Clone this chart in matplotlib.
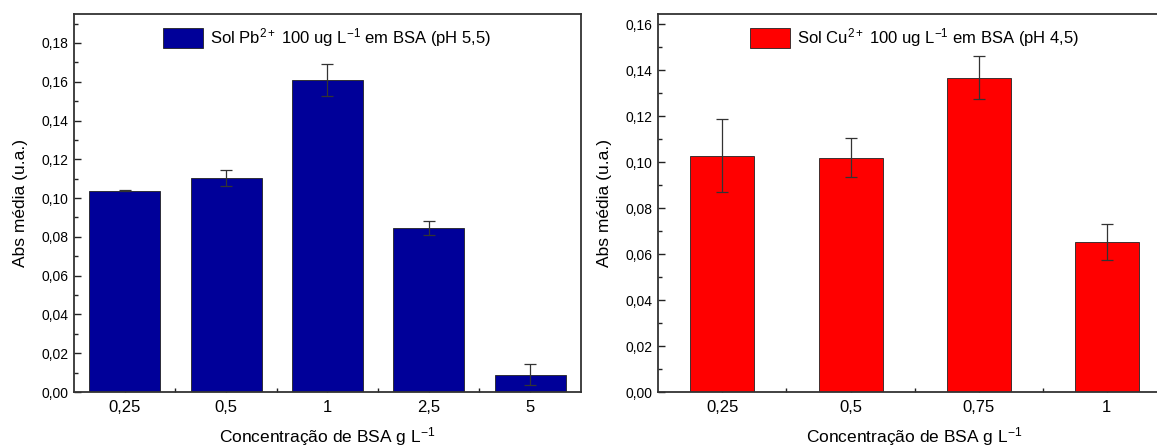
import matplotlib
matplotlib.use("Agg")
import matplotlib.pyplot as plt
from matplotlib.ticker import FuncFormatter, MultipleLocator, FixedLocator

plt.rcParams['font.family'] = ['Liberation Sans', 'DejaVu Sans']
plt.rcParams['mathtext.fontset'] = 'custom'
plt.rcParams['mathtext.rm'] = 'Liberation Sans'
plt.rcParams['mathtext.it'] = 'Liberation Sans'
plt.rcParams['mathtext.default'] = 'rm'

# Pb2+ panel
pb_labels = ['0,25', '0,5', '1', '2,5', '5']
pb_values = [0.1039, 0.1104, 0.1607, 0.0848, 0.0088]
pb_errors = [0.0005, 0.0040, 0.0083, 0.0036, 0.0054]

# Cu2+ panel
cu_labels = ['0,25', '0,5', '0,75', '1']
cu_values = [0.1028, 0.1020, 0.1368, 0.0651]
cu_errors = [0.0160, 0.0085, 0.0095, 0.0078]

comma = FuncFormatter(lambda v, p: f"{v:.2f}".replace('.', ','))

fig = plt.figure(figsize=(11.57, 4.47), dpi=100)
ax1 = fig.add_axes([0.064, 0.123, 0.438, 0.846])
ax2 = fig.add_axes([0.569, 0.123, 0.443, 0.846])


def draw(ax, labels, values, errors, color, width, ymax, legend_text):
    x = list(range(1, len(labels) + 1))
    ax.bar(x, values, width=width, color=color, edgecolor='#222222',
           linewidth=0.6, label=legend_text, zorder=2)
    ax.errorbar(x, values, yerr=errors, fmt='none', ecolor='#333333',
                elinewidth=0.9, capsize=4, capthick=0.9, zorder=3)
    ax.set_xlim(0.5, len(labels) + 0.5)
    ax.set_ylim(0, ymax)
    ax.xaxis.set_major_locator(FixedLocator(x))
    ax.set_xticklabels(labels, fontsize=12)
    ax.xaxis.set_minor_locator(FixedLocator([i + 0.5 for i in x[:-1]]))
    ax.yaxis.set_major_locator(MultipleLocator(0.02))
    ax.yaxis.set_minor_locator(MultipleLocator(0.01))
    ax.yaxis.set_major_formatter(comma)
    ax.tick_params(axis='both', which='both', direction='in', top=False, right=False)
    ax.tick_params(axis='both', which='major', length=5, width=1, color='#222222')
    ax.tick_params(axis='both', which='minor', length=3, width=1, color='#222222')
    ax.tick_params(axis='y', labelsize=10, pad=4)
    ax.tick_params(axis='x', pad=6)
    for s in ax.spines.values():
        s.set_linewidth(1.3)
        s.set_color('#333333')
    ax.set_ylabel('Abs média (u.a.)', fontsize=12.5)
    ax.set_xlabel('Concentração de BSA g L$^{-1}$', fontsize=12.5, labelpad=7)
    leg = ax.legend(loc='upper center', fontsize=12, frameon=False,
                    handlelength=2.4, handleheight=1.4, borderaxespad=0.35,
                    handletextpad=0.4)
    return leg


draw(ax1, pb_labels, pb_values, pb_errors, '#000099', 0.7, 0.195,
     'Sol Pb$^{2+}$ 100 ug L$^{-1}$ em BSA (pH 5,5)')
draw(ax2, cu_labels, cu_values, cu_errors, '#FF0000', 0.5, 0.1645,
     'Sol Cu$^{2+}$ 100 ug L$^{-1}$ em BSA (pH 4,5)')

ax1.yaxis.set_label_coords(-0.09, 0.5)
ax2.yaxis.set_label_coords(-0.091, 0.5)

fig.savefig('out.png', dpi=100)
